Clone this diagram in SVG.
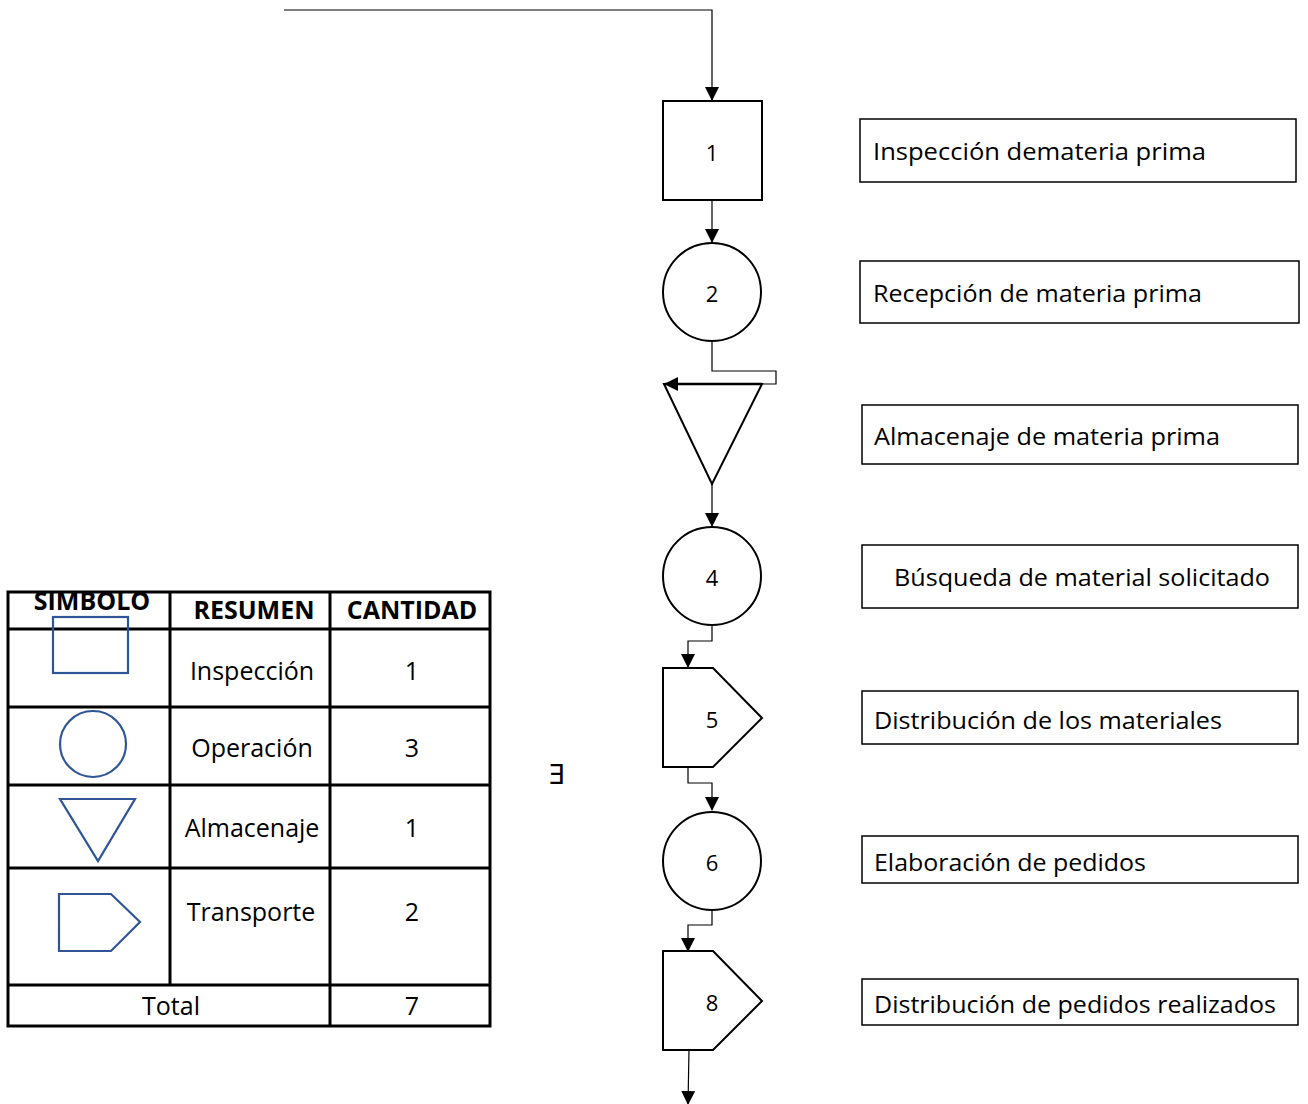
<svg xmlns="http://www.w3.org/2000/svg" width="1308" height="1104" viewBox="0 0 1308 1104">
<style>
.n{fill:#fff;stroke:#000;stroke-width:2}
.c{fill:none;stroke:#000;stroke-width:1.2}
.num{font-family:"Open Sans","Liberation Sans",sans-serif;font-size:22px;fill:#000;text-anchor:middle;dominant-baseline:central}
.lb{fill:#fff;stroke:#000;stroke-width:1.5}
.lt{font-family:"Open Sans","Liberation Sans",sans-serif;font-size:24px;fill:#000;dominant-baseline:central}
.tl{stroke:#000;stroke-width:3;fill:none}
.th{font-family:"Open Sans","Liberation Sans",sans-serif;font-size:25px;font-weight:bold;fill:#000;text-anchor:middle}
.td{font-family:"Open Sans","Liberation Sans",sans-serif;font-size:25px;fill:#000;text-anchor:middle}
.sym{fill:none;stroke:#2F5597;stroke-width:2.2}
</style>
<defs>
<marker id="ahs" markerWidth="14" markerHeight="14" refX="13" refY="7" orient="auto" markerUnits="userSpaceOnUse" viewBox="0 0 14 14">
<path d="M0,0 L14,7 L0,14 z" fill="#000"/>
</marker>
</defs>

<g id="connectors">
<polyline class="c" points="284,10 712,10 712,100" marker-end="url(#ahs)"/>
<line class="c" x1="712" y1="200" x2="712" y2="242" marker-end="url(#ahs)"/>
<polyline class="c" points="712,341 712,371 776,371 776,384 762,384" stroke="#555"/>
<line class="c" x1="762" y1="384" x2="665" y2="384" marker-end="url(#ahs)" style="stroke-width:2.5"/>
<line class="c" x1="712" y1="484" x2="712" y2="526" marker-end="url(#ahs)"/>
<polyline class="c" points="712,625 712,641 688,641 688,667" marker-end="url(#ahs)"/>
<polyline class="c" points="688,767 688,783 712,783 712,810" marker-end="url(#ahs)"/>
<polyline class="c" points="712,910 712,925 688,925 688,951" marker-end="url(#ahs)"/>
<line class="c" x1="689" y1="1050" x2="688" y2="1104" marker-end="url(#ahs)"/>
</g>

<g id="node1"><rect class="n" x="663" y="101" width="99" height="99"/><text class="num" x="712" y="152">1</text></g>
<g id="node2"><circle class="n" cx="712" cy="292" r="49"/><text class="num" x="712" y="293">2</text></g>
<g id="node3"><polygon class="n" points="664,384 762,384 712,484" style="fill:none"/></g>
<g id="node4"><circle class="n" cx="712" cy="576" r="49"/><text class="num" x="712" y="577">4</text></g>
<g id="node5"><polygon class="n" points="663,668 713,668 762,718 713,767 663,767"/><text class="num" x="712" y="719">5</text></g>
<g id="node6"><circle class="n" cx="712" cy="861" r="49"/><text class="num" x="712" y="862">6</text></g>
<g id="node8"><polygon class="n" points="663,951 713,951 762,1001 713,1050 663,1050"/><text class="num" x="712" y="1002">8</text></g>

<g id="label1"><rect class="lb" x="860" y="119" width="436" height="63"/><text class="lt" x="873" y="150" textLength="333" lengthAdjust="spacingAndGlyphs">Inspección demateria prima</text></g>
<g id="label2"><rect class="lb" x="860" y="261" width="439" height="62"/><text class="lt" x="873" y="292" textLength="329" lengthAdjust="spacingAndGlyphs">Recepción de materia prima</text></g>
<g id="label3"><rect class="lb" x="862" y="405" width="436" height="59"/><text class="lt" x="874" y="435" textLength="346" lengthAdjust="spacingAndGlyphs">Almacenaje de materia prima</text></g>
<g id="label4"><rect class="lb" x="862" y="545" width="436" height="63"/><text class="lt" x="894" y="576" textLength="376" lengthAdjust="spacingAndGlyphs">Búsqueda de material solicitado</text></g>
<g id="label5"><rect class="lb" x="862" y="691" width="436" height="53"/><text class="lt" x="874" y="719" textLength="348" lengthAdjust="spacingAndGlyphs">Distribución de los materiales</text></g>
<g id="label6"><rect class="lb" x="862" y="836" width="436" height="47"/><text class="lt" x="874" y="861" textLength="272" lengthAdjust="spacingAndGlyphs">Elaboración de pedidos</text></g>
<g id="label7"><rect class="lb" x="862" y="979" width="436" height="46"/><text class="lt" x="874" y="1003" textLength="402" lengthAdjust="spacingAndGlyphs">Distribución de pedidos realizados</text></g>

<text x="557" y="784" font-family="'DejaVu Sans',sans-serif" font-size="26" text-anchor="middle" fill="#000">Ǝ</text>

<g id="table">
<rect class="tl" x="8" y="592" width="482" height="434"/>
<line class="tl" x1="170" y1="592" x2="170" y2="985"/>
<line class="tl" x1="330" y1="592" x2="330" y2="1026"/>
<line class="tl" x1="8" y1="629" x2="490" y2="629"/>
<line class="tl" x1="8" y1="707" x2="490" y2="707"/>
<line class="tl" x1="8" y1="785" x2="490" y2="785"/>
<line class="tl" x1="8" y1="868" x2="490" y2="868"/>
<line class="tl" x1="8" y1="985" x2="490" y2="985"/>
<text class="th" x="92" y="610">SIMBOLO</text>
<text class="th" x="254" y="619">RESUMEN</text>
<text class="th" x="412" y="619">CANTIDAD</text>
<text class="td" x="252" y="680">Inspección</text>
<text class="td" x="412" y="680">1</text>
<text class="td" x="252" y="757">Operación</text>
<text class="td" x="412" y="757">3</text>
<text class="td" x="252" y="837">Almacenaje</text>
<text class="td" x="412" y="837">1</text>
<text class="td" x="251" y="921">Transporte</text>
<text class="td" x="412" y="921">2</text>
<text class="td" x="171" y="1015">Total</text>
<text class="td" x="412" y="1015">7</text>
<rect class="sym" x="53" y="617" width="75" height="56"/>
<circle class="sym" cx="93" cy="744" r="33"/>
<polygon class="sym" points="60,799 135,799 98,861"/>
<polygon class="sym" points="59,894 111,894 140,922 111,951 59,951"/>
</g>
</svg>
